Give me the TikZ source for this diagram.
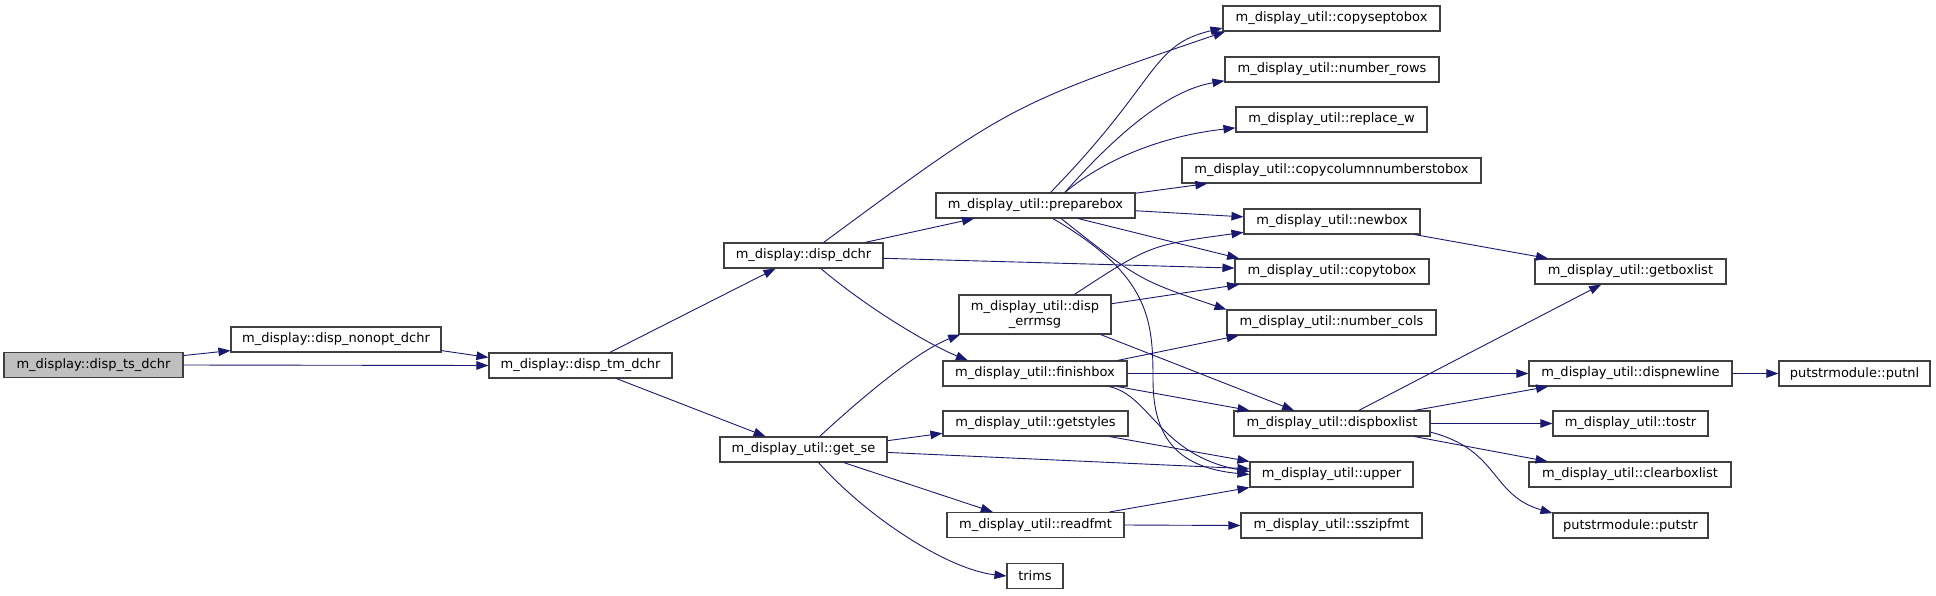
\documentclass[tikz,border=0pt]{standalone}
\usepackage{fontspec}
\setmainfont{DejaVu Sans}
\usepackage{xcolor}
\usepackage{tikz}
\usetikzlibrary{arrows.meta, calc}
\definecolor{edgeblue}{RGB}{25,25,112}
\definecolor{boxgrey}{RGB}{64,64,64}
\definecolor{callerfill}{RGB}{191,191,191}
\tikzset{
  fn/.style={rectangle, draw=boxgrey, fill=white, line width=1.1pt,
    minimum height=25pt, inner sep=0pt, align=center,
    font=\fontsize{13}{15}\selectfont},
  call/.style={-{Triangle[length=12pt,width=8.5pt]}, draw=edgeblue,
    line width=0.9pt}
}
\begin{document}
\begin{tikzpicture}[x=1pt, y=-1pt]
  \useasboundingbox (0,0) rectangle (1936,595);

  % Left part
  \node[fn, fill=callerfill, minimum width=179pt] (ts) at (93.5,365) {m\_display::disp\_ts\_dchr};
  \node[fn, minimum width=210pt] (nonopt) at (336,339.5) {m\_display::disp\_nonopt\_dchr};
  \node[fn, minimum width=183pt] (tm) at (580.5,365.5) {m\_display::disp\_tm\_dchr};
  \node[fn, minimum width=159pt] (dchr) at (803.5,255.5) {m\_display::disp\_dchr};
  \node[fn, minimum width=167pt] (getse) at (803.5,449.5) {m\_display\_util::get\_se};

  % Middle column
  \node[fn, minimum width=199pt] (prep) at (1035.5,205.5) {m\_display\_util::preparebox};
  \node[fn, minimum width=152pt, minimum height=39pt] (errmsg) at (1035,314.5) {m\_display\_util::disp\\\_errmsg};
  \node[fn, minimum width=184pt] (finish) at (1035,373.5) {m\_display\_util::finishbox};
  \node[fn, minimum width=185pt] (getstyles) at (1035.5,423.5) {m\_display\_util::getstyles};
  \node[fn, minimum width=177pt] (readfmt) at (1035.5,525) {m\_display\_util::readfmt};
  \node[fn, minimum width=56pt] (trims) at (1035,576) {trims};

  % Right column
  \node[fn, minimum width=217pt] (copysep) at (1331.5,18.5) {m\_display\_util::copyseptobox};
  \node[fn, minimum width=214pt] (nrows) at (1332,69.5) {m\_display\_util::number\_rows};
  \node[fn, minimum width=191pt] (replw) at (1331.5,119.5) {m\_display\_util::replace\_w};
  \node[fn, minimum width=299pt] (copycol) at (1331.5,170.5) {m\_display\_util::copycolumnnumberstobox};
  \node[fn, minimum width=176pt] (newbox) at (1332,221.5) {m\_display\_util::newbox};
  \node[fn, minimum width=194pt] (copyto) at (1332,271.5) {m\_display\_util::copytobox};
  \node[fn, minimum width=209pt] (ncols) at (1331.5,322.5) {m\_display\_util::number\_cols};
  \node[fn, minimum width=196pt] (dbl) at (1332,423.5) {m\_display\_util::dispboxlist};
  \node[fn, minimum width=163pt] (upper) at (1331.5,474.5) {m\_display\_util::upper};
  \node[fn, minimum width=181pt] (sszip) at (1331.5,525.5) {m\_display\_util::sszipfmt};

  % Far right
  \node[fn, minimum width=191pt] (getbl) at (1630.5,271.5) {m\_display\_util::getboxlist};
  \node[fn, minimum width=203pt] (dnl) at (1630.5,373.5) {m\_display\_util::dispnewline};
  \node[fn, minimum width=151pt] (putnl) at (1854.5,373.5) {putstrmodule::putnl};
  \node[fn, minimum width=155pt] (tostr) at (1630.5,423.5) {m\_display\_util::tostr};
  \node[fn, minimum width=202pt] (clrbl) at (1630,474.5) {m\_display\_util::clearboxlist};
  \node[fn, minimum width=155pt] (putstr) at (1630.5,525.5) {putstrmodule::putstr};

  % Calls from the left
  \draw[call] (ts.6) -- (nonopt.186);
  \draw[call] (ts.east) -- (tm.west);
  \draw[call] (nonopt.354) -- (tm.175);
  \draw[call] (tm.24) -- (dchr.205);
  \draw[call] (tm.340) -- (getse.161);

  % disp_dchr
  \draw[call] (dchr.33) .. controls (1010,105) .. (copysep.187);
  \draw[call] (dchr.12) -- (prep.192);
  \draw[call] (dchr.358) -- (copyto.178.5);
  \draw[call] (dchr.323) .. controls (870,310) and (930,345) .. (finish.169);

  % preparebox
  \draw[call] (prep.41) .. controls (1160,80) and (1150,45) .. (copysep.185.5);
  \draw[call] (prep.24) .. controls (1120,130) and (1170,90) .. (nrows.186);
  \draw[call] (prep.24) .. controls (1110,155) and (1170,135) .. (replw.185);
  \draw[call] (prep.7) -- (copycol.186.5);
  \draw[call] (prep.357) -- (newbox.177);
  \draw[call] (prep.343) -- (copyto.172);
  \draw[call] (prep.333) .. controls (1139,280) .. (ncols.173);
  \draw[call] (prep.323) .. controls (1150,275) and (1153,320) .. (1153,380)
    .. controls (1153,440) and (1180,468) .. (upper.180);

  % disp_errmsg
  \draw[call] (errmsg.27) .. controls (1150,245) .. (newbox.187);
  \draw[call] (errmsg.8.6) -- (copyto.188);
  \draw[call] (errmsg.343) -- (dbl.161);

  % finishbox
  \draw[call] (finish.9.5) -- (ncols.188.7);
  \draw[call] (finish.east) -- (dnl.west);
  \draw[call] (finish.351) -- (dbl.171);
  \draw[call] (finish.350) .. controls (1150,395) and (1160,455) .. (upper.178);

  % get_se
  \draw[call] (getse.39) .. controls (870,390) and (920,350) .. (errmsg.195);
  \draw[call] (getse.6.5) -- (getstyles.186);
  \draw[call] (getse.358) -- (upper.176);
  \draw[call] (getse.342) -- (readfmt.163);
  \draw[call] (getse.319) .. controls (870,520) and (950,570) .. (trims.west);

  % getstyles, readfmt
  \draw[call] (getstyles.350.5) -- (upper.171);
  \draw[call] (readfmt.10) -- (upper.189);
  \draw[call] (readfmt.east) -- (sszip.west);

  % dispboxlist
  \draw[call] (dbl.26) -- (getbl.204);
  \draw[call] (dbl.9.3) -- (dnl.189);
  \draw[call] (dbl.east) -- (tostr.west);
  \draw[call] (dbl.351) -- (clrbl.171);
  \draw[call] (dbl.355) .. controls (1500,450) and (1490,495) .. (putstr.171);

  % newbox, dispnewline
  \draw[call] (newbox.351) -- (getbl.171);
  \draw[call] (dnl.east) -- (putnl.west);
\end{tikzpicture}
\end{document}
